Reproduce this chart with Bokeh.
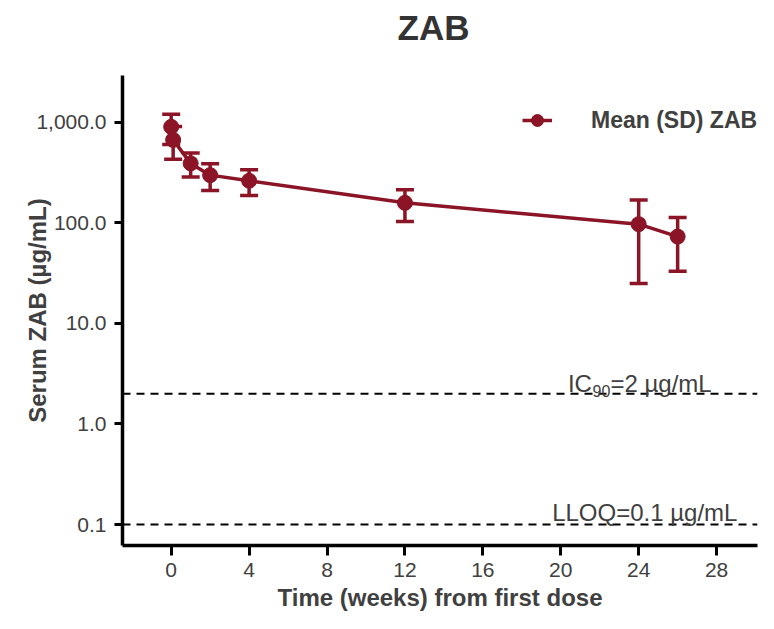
from bokeh.plotting import figure
from bokeh.models import (ColumnDataSource, Range1d, FixedTicker, Whisker, TeeHead,
                          Span, Label, Legend, LegendItem, Title)
from bokeh.embed import file_html
from bokeh.resources import INLINE

# ---- data ----
weeks = [0, 0.1, 1, 2, 4, 12, 24, 26]
mean_conc = [900, 668, 390, 298, 262, 158, 97, 73]
sd_conc = [300, 240, 105, 88, 75, 55, 72, 40]

x_ticks = [0, 4, 8, 12, 16, 20, 24, 28]
y_ticks = [0.1, 1, 10, 100, 1000]
y_tick_labels = ["0.1", "1.0", "10.0", "100.0", "1,000.0"]

ic90_level = 2
lloq_level = 0.1

series_name = "Mean (SD) ZAB"
title_text = "ZAB"
x_label = "Time (weeks) from first dose"
y_label = "Serum ZAB (µg/mL)"

RED = "#8B1426"
TXT = "#404040"
FONT = "Liberation Sans"

src = ColumnDataSource(dict(
    x=weeks, y=mean_conc,
    upper=[m + s for m, s in zip(mean_conc, sd_conc)],
    lower=[m - s for m, s in zip(mean_conc, sd_conc)],
))

p = figure(width=758, height=613, y_axis_type="log",
           x_range=Range1d(-2.5, 30.1), y_range=Range1d(0.0619, 2917),
           output_backend="svg", toolbar_location=None,
           min_border_left=122, min_border_right=1,
           min_border_top=75, min_border_bottom=66)

p.outline_line_color = None
p.xgrid.visible = False
p.ygrid.visible = False

# main title (outermost), with a small spacer title between it and the frame
p.title.text = title_text
p.title.align = "left"
p.title.offset = 275
p.title.vertical_align = "top"
p.title.standoff = 0
p.title.text_font = FONT
p.title.text_font_size = "35px"
p.title.text_color = "#333333"
p.add_layout(Title(text=" ", text_font_size="10px", standoff=14), "above")

# axes
for ax in (p.xaxis[0], p.yaxis[0]):
    ax.axis_line_width = 3.5
    ax.axis_line_color = "black"
    ax.major_tick_line_width = 3
    ax.major_tick_line_color = "black"
    ax.major_tick_in = 0
    ax.minor_tick_line_color = None
    ax.major_label_text_font = FONT
    ax.major_label_text_color = TXT
    ax.axis_label_text_font = FONT
    ax.axis_label_text_font_style = "bold"
    ax.axis_label_text_color = TXT

p.xaxis.ticker = FixedTicker(ticks=x_ticks)
p.xaxis.major_tick_out = 10
p.xaxis.major_label_standoff = 7
p.xaxis.major_label_text_font_size = "21px"
p.xaxis.axis_label = x_label
p.xaxis.axis_label_text_font_size = "24px"
p.xaxis.axis_label_standoff = 4

p.yaxis.ticker = FixedTicker(ticks=y_ticks)
p.yaxis.major_label_overrides = {t: lab for t, lab in zip(y_ticks, y_tick_labels)}
p.yaxis.major_tick_out = 8
p.yaxis.major_label_standoff = 8
p.yaxis.major_label_text_font_size = "21px"
p.yaxis.axis_label = y_label
p.yaxis.axis_label_text_font_size = "24px"
p.yaxis.axis_label_standoff = -18

# reference lines
for lvl in (ic90_level, lloq_level):
    p.add_layout(Span(location=lvl, dimension="width", line_color="black",
                      line_width=2, line_dash="8 6"))

lab_kw = dict(text_font=FONT, text_color=TXT, text_baseline="alphabetic")
p.add_layout(Label(x=21.6, y=ic90_level, text="IC", text_align="right",
                   y_offset=10, text_font_size="24px", **lab_kw))
p.add_layout(Label(x=21.63, y=ic90_level, text="90", text_align="left",
                   y_offset=3, text_font_size="16px", **lab_kw))
p.add_layout(Label(x=22.55, y=ic90_level, text="=2 µg/mL", text_align="left",
                   y_offset=10, text_font_size="24px", **lab_kw))
p.add_layout(Label(x=29.07, y=lloq_level, text="LLOQ=0.1 µg/mL", text_align="right",
                   y_offset=12, text_font_size="24px", **lab_kw))

# data
wh = Whisker(source=src, base="x", upper="upper", lower="lower", dimension="height",
             line_color=RED, line_width=3.5,
             upper_head=TeeHead(size=18, line_color=RED, line_width=3.5),
             lower_head=TeeHead(size=18, line_color=RED, line_width=3.5))
p.add_layout(wh)
line_r = p.line("x", "y", source=src, line_color=RED, line_width=3.5)
scat_r = p.scatter("x", "y", source=src, size=15, fill_color=RED, line_color=RED)

legend = Legend(items=[LegendItem(label=series_name, renderers=[line_r, scat_r])],
                location=(400, 405), glyph_width=30, glyph_height=40,
                label_standoff=39, padding=0, margin=0, spacing=0,
                border_line_color=None, background_fill_alpha=0,
                label_text_font=FONT, label_text_font_size="23px",
                label_text_font_style="bold", label_text_color=TXT)
p.add_layout(legend)

open("out.html", "w").write(file_html(p, INLINE))
